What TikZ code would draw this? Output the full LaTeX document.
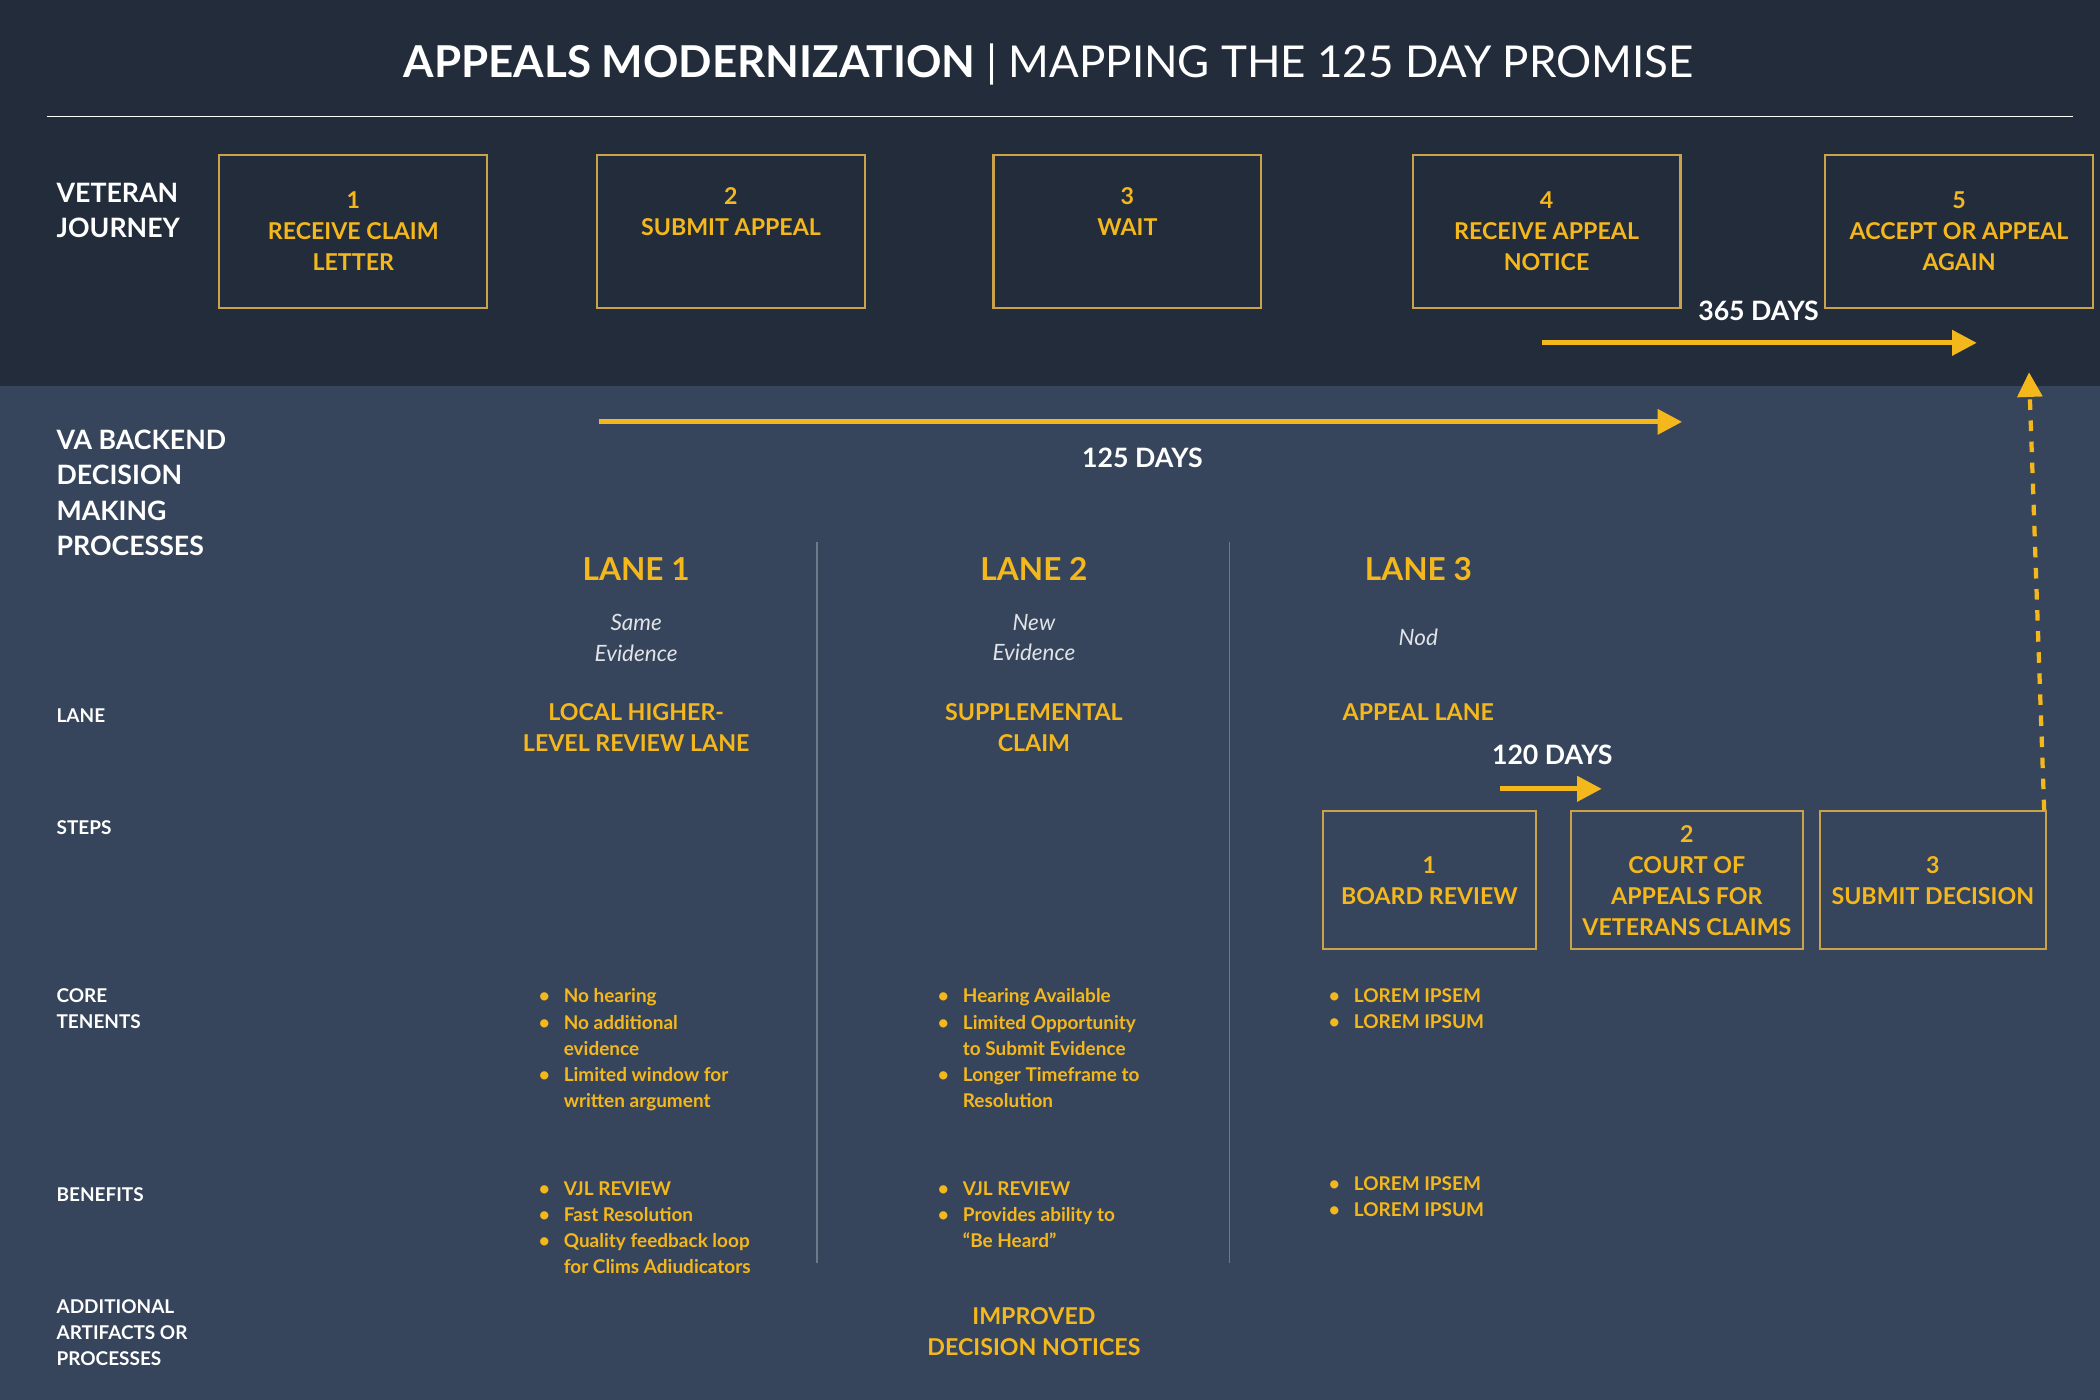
\documentclass[tikz,border=0pt]{standalone}
\usepackage{fontspec}
\setmainfont{Lato}
\usetikzlibrary{arrows.meta}
\definecolor{topbg}{HTML}{222C3B}
\definecolor{lowbg}{HTML}{36455B}
\definecolor{vayellow}{HTML}{F5B81C}
\definecolor{boxline}{HTML}{C9A24A}
\definecolor{sepline}{HTML}{6E7A8C}
\newcommand{\bul}{\textbullet\hspace{4pt}}
\newcommand{\ind}{\phantom{\textbullet}\hspace{4pt}}
\begin{document}
\begin{tikzpicture}[x=0.01339cm, y=-0.01339cm,
  journeybox/.style={draw=boxline, line width=0.6pt, minimum width=200*0.01339cm, minimum height=114*0.01339cm, anchor=north west, align=center, text=vayellow, font=\fontsize{6.6}{8.8}\selectfont\bfseries},
  stepbox/.style={draw=boxline, line width=0.6pt, minimum width=159*0.01339cm, minimum height=103*0.01339cm, anchor=north west, align=center, text=vayellow, font=\fontsize{6.6}{8.8}\selectfont\bfseries},
  rowlabel/.style={anchor=west, align=left, text=white, font=\fontsize{5.4}{7.5}\selectfont\bfseries},
  biglabel/.style={anchor=west, align=left, text=white, font=\fontsize{7.6}{10.1}\selectfont\bfseries},
  lanetitle/.style={text=vayellow, font=\fontsize{9}{11}\selectfont\bfseries},
  lanesub/.style={text=white!85!lowbg, align=center, font=\fontsize{6.4}{8.8}\selectfont\itshape},
  lanename/.style={text=vayellow, align=center, font=\fontsize{6.6}{8.8}\selectfont\bfseries},
  bullets/.style={anchor=north west, align=left, text=vayellow, font=\fontsize{5.4}{7.45}\selectfont\bfseries},
  daylabel/.style={text=white, font=\fontsize{7.6}{10}\selectfont\bfseries},
  dayarrow/.style={draw=vayellow, line width=1.4pt, -{Triangle[length=7pt,width=7pt]}}]

%backgrounds
\fill[lowbg] (0,0) rectangle (1568,1045);
\fill[topbg] (0,0) rectangle (1568,288);

%title
\node[text=white, font=\fontsize{12.5}{15}\selectfont] (title) at (783,48) {\textbf{APPEALS MODERNIZATION} | MAPPING THE 125 DAY PROMISE};
\draw[white, line width=0.5pt] (35,87) -- (1548,87);

%veteran journey
\node[biglabel] (journey) at (33,157) {VETERAN\\JOURNEY};
\node[journeybox] (j1) at (163,115) {1\\RECEIVE CLAIM\\LETTER};
\node[journeybox] (j2) at (445,115) {2\\SUBMIT APPEAL\\\strut};
\node[journeybox] (j3) at (741,115) {3\\WAIT\\\strut};
\node[journeybox] (j4) at (1054,115) {4\\RECEIVE APPEAL\\NOTICE};
\node[journeybox] (j5) at (1362,115) {5\\ACCEPT OR APPEAL\\AGAIN};

\node[daylabel] (d365) at (1313,232) {365 DAYS};
\coordinate (a365s) at (1151,256); \coordinate (a365e) at (1476,256);
\draw[dayarrow] (a365s) -- (a365e);

%backend
\node[biglabel] (backend) at (33,368) {VA BACKEND\\DECISION\\MAKING\\PROCESSES};
\coordinate (a125s) at (447,315); \coordinate (a125e) at (1256,315);
\draw[dayarrow] (a125s) -- (a125e);
\node[daylabel] (d125) at (853,342) {125 DAYS};

%lane separators
\draw[sepline, line width=0.5pt] (610,405) -- (610,943);
\draw[sepline, line width=0.5pt] (918,405) -- (918,943);

%row labels
\node[rowlabel] (rlane) at (33,534) {LANE};
\node[rowlabel] (rsteps) at (33,618) {STEPS};
\node[rowlabel] (rcore) at (33,753) {CORE\\TENENTS};
\node[rowlabel] (rbenefit) at (33,892) {BENEFITS};
\node[rowlabel] (radd) at (33,995) {ADDITIONAL\\ARTIFACTS OR\\PROCESSES};

%lanes
\node[lanetitle] (l1) at (475,425) {LANE 1};
\node[lanetitle] (l2) at (772,425) {LANE 2};
\node[lanetitle] (l3) at (1059,425) {LANE 3};
\node[lanesub] (s1) at (475,476) {Same\\Evidence};
\node[lanesub] (s2) at (772,476) {New\\Evidence};
\node[lanesub] (s3) at (1059,476) {Nod};
\node[lanename] (n1) at (475,543) {LOCAL HIGHER-\\LEVEL REVIEW LANE};
\node[lanename] (n2) at (772,543) {SUPPLEMENTAL\\CLAIM};
\node[lanename] (n3) at (1059,532) {APPEAL LANE};

%lane 3 steps
\node[daylabel] (d120) at (1159,564) {120 DAYS};
\coordinate (a120s) at (1120,589); \coordinate (a120e) at (1196,589);
\draw[dayarrow] (a120s) -- (a120e);
\node[stepbox] (st1) at (987,605) {1\\BOARD REVIEW};
\node[stepbox] (st2) at (1172,605) {2\\COURT OF\\APPEALS FOR\\VETERANS CLAIMS};
\node[stepbox] (st3) at (1358,605) {3\\SUBMIT DECISION};
\coordinate (back) at (1515,278);
\draw[vayellow, line width=1.2pt, dashed, -{Triangle[length=7pt,width=7pt]}] (st3.north east) ++(-2,0) -- (back);

%core tenents
\node[bullets] (c1) at (393,729) {\bul No hearing\\\bul No additional\\\ind evidence\\\bul Limited window for\\\ind written argument};
\node[bullets] (c2) at (691,729) {\bul Hearing Available\\\bul Limited Opportunity\\\ind to Submit Evidence\\\bul Longer Timeframe to\\\ind Resolution};
\node[bullets] (c3) at (983,729) {\bul LOREM IPSEM\\\bul LOREM IPSUM};

%benefits
\node[bullets] (b1) at (393,873) {\bul VJL REVIEW\\\bul Fast Resolution\\\bul Quality feedback loop\\\ind for Clims Adiudicators};
\node[bullets] (b2) at (691,873) {\bul VJL REVIEW\\\bul Provides ability to\\\ind ``Be Heard''};
\node[bullets] (b3) at (983,869) {\bul LOREM IPSEM\\\bul LOREM IPSUM};

%additional
\node[lanename] (improved) at (772,994) {IMPROVED\\DECISION NOTICES};
\end{tikzpicture}
\end{document}
